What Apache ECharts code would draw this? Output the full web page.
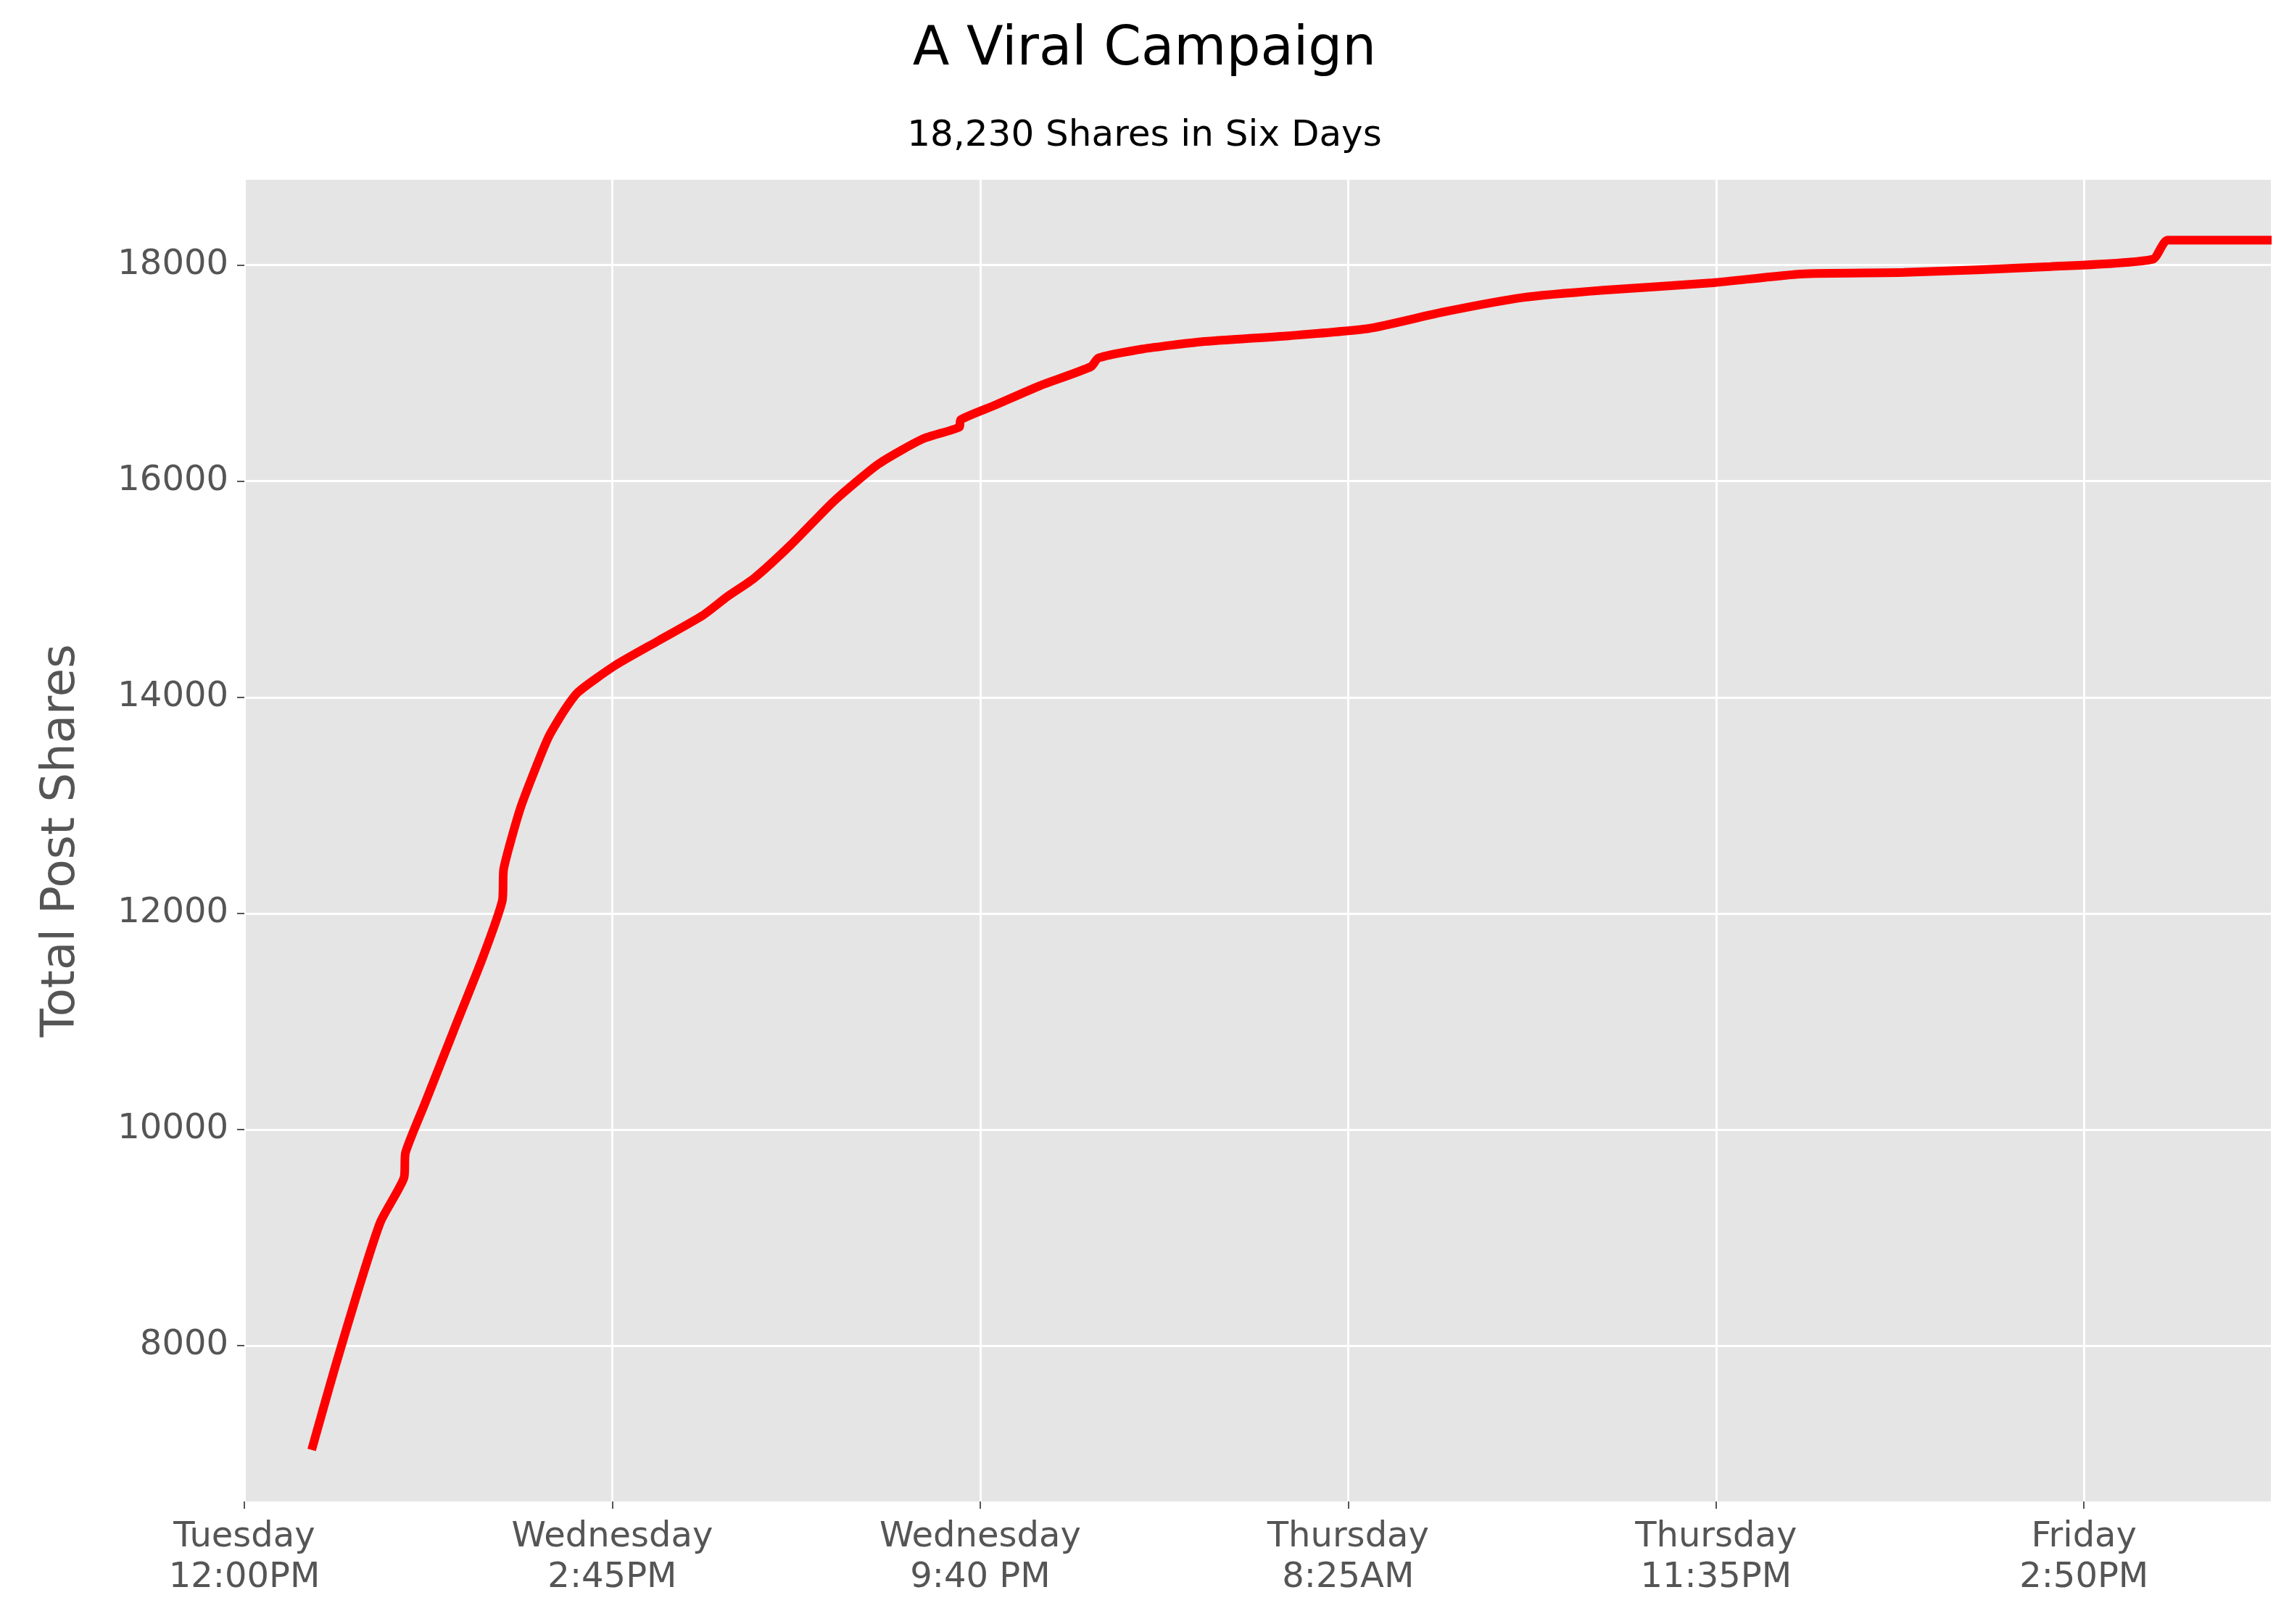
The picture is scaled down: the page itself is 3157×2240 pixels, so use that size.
<!DOCTYPE html><html><head><meta charset="utf-8">
<script src="https://cdn.jsdelivr.net/npm/echarts@6/dist/echarts.min.js"></script>
<style>html,body{margin:0;background:#fff}#c{width:3157px;height:2240px}</style></head><body><div id="c"></div>
<script>
const xTickLabels=['Tuesday\n12:00PM','Wednesday\n2:45PM','Wednesday\n9:40 PM','Thursday\n8:25AM','Thursday\n11:35PM','Friday\n2:50PM'];
const xPos=[0.183,0.211,0.251,0.311,0.370,0.434,0.438,0.490,0.569,0.649,0.701,0.705,0.749,0.790,0.828,0.870,0.908,1.008,1.127,1.247,1.314,1.385,1.485,1.604,1.724,1.843,1.943,1.947,2.042,2.162,2.301,2.321,2.440,2.600,2.838,3.057,3.256,3.475,3.694,3.992,4.231,4.510,4.908,5.187,5.227,5.510];
const shares=[7033,7373,7850,8530,9144,9553,9785,10234,10915,11600,12115,12414,12960,13330,13640,13880,14050,14295,14526,14760,14935,15100,15410,15820,16160,16390,16500,16570,16706,16883,17060,17140,17223,17290,17346,17414,17564,17700,17768,17837,17918,17932,17986,18054,18232,18232];
const yTicks=[8000,10000,12000,14000,16000,18000];
const ch=echarts.init(document.getElementById('c'));
const F='DejaVu Sans';
ch.setOption({
 title:[{text:'A Viral Campaign',left:'center',top:28,textStyle:{fontFamily:F,fontSize:74,fontWeight:'normal',color:'#000'}},
        {text:'18,230 Shares in Six Days',left:'center',top:158,textStyle:{fontFamily:F,fontSize:50,fontWeight:'normal',color:'#000'}}],
 grid:{left:337,right:24,top:248,bottom:169,backgroundColor:'#e5e5e5',show:true,borderWidth:0},
 xAxis:{type:'value',min:0,max:5.51,interval:1,
  axisLine:{show:false},axisTick:{show:true,length:10,lineStyle:{color:'#555',width:2}},
  axisLabel:{fontFamily:F,fontSize:48,color:'#555',margin:22,lineHeight:56,showMaxLabel:false,formatter:v=>xTickLabels[Math.round(v)]||''},
  splitLine:{show:true,lineStyle:{color:'#fff',width:3}}},
 yAxis:{type:'value',min:6556,max:18790,name:'Total Post Shares',nameLocation:'middle',nameGap:220,
  nameTextStyle:{fontFamily:F,fontSize:64,color:'#555'},
  axisLine:{show:false},axisTick:{show:true,length:10,customValues:yTicks,lineStyle:{color:'#555',width:2}},
  axisLabel:{fontFamily:F,fontSize:48,color:'#555',margin:22,customValues:yTicks,formatter:v=>String(v)},
  splitLine:{show:true,lineStyle:{color:'#fff',width:3}}},
 series:[{type:'line',data:xPos.map((x,i)=>[x,shares[i]]),showSymbol:false,smooth:0.2,lineStyle:{color:'#ff0000',width:12},animation:false}]
});
</script></body></html>
